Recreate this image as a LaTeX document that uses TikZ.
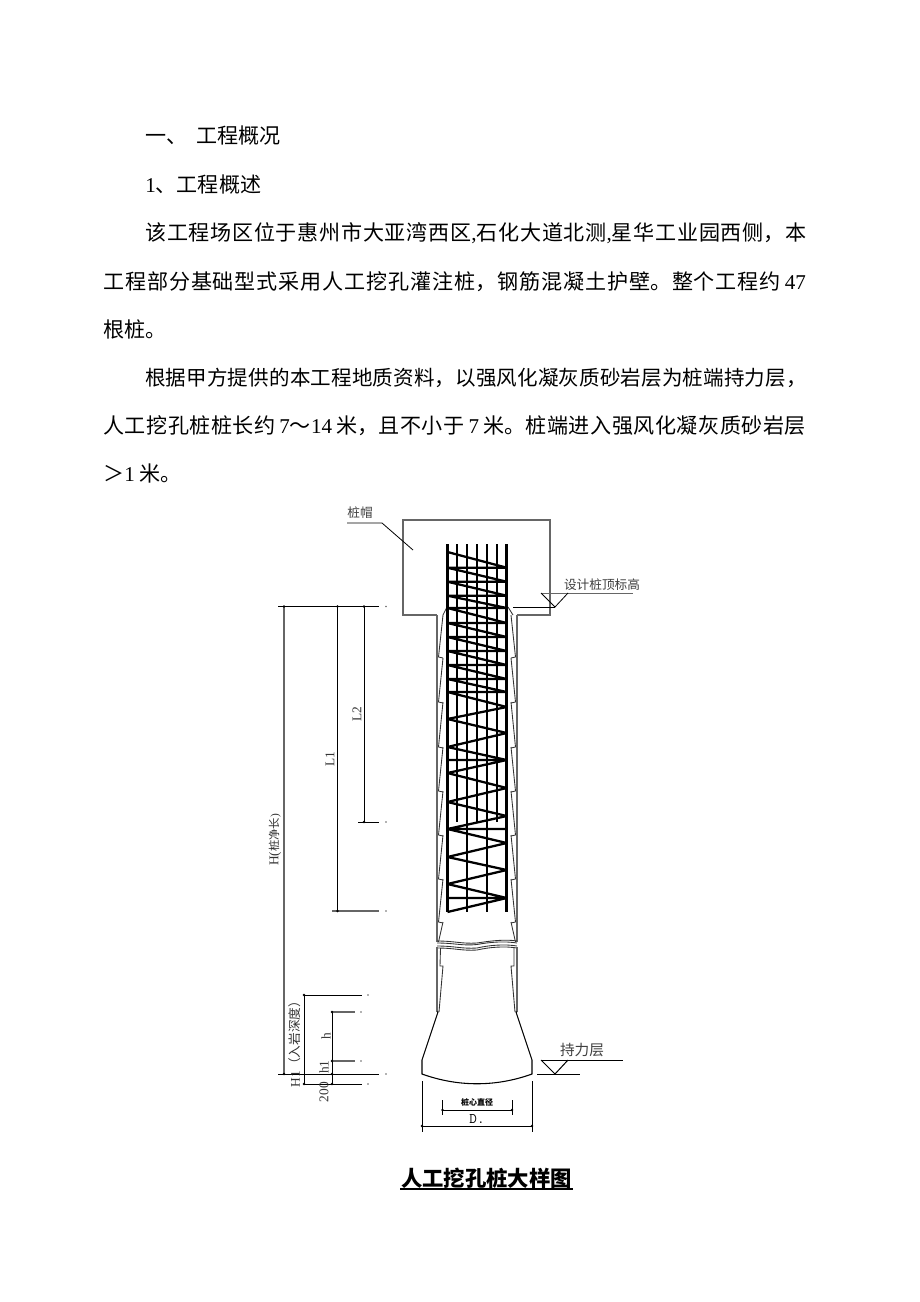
\documentclass[tikz,border=0pt]{standalone}
\usepackage{fontspec}
\setmainfont{Liberation Serif}
\newfontfamily\cjk{Noto Sans CJK SC}
\XeTeXlinebreaklocale "zh"
\XeTeXlinebreakskip=0pt plus 2pt
\tikzset{
 x=0.75pt,y=-0.75pt,
 body/.style={anchor=base west,inner sep=0,font=\fontsize{15.8pt}{18pt}\selectfont\cjk},
 lab/.style={inner sep=0,font=\fontsize{9.5pt}{12pt}\selectfont\cjk,text=black!75},
 dimlab/.style={inner sep=0,rotate=90,font=\fontsize{10pt}{11pt}\selectfont,text=black!80},
 thin line/.style={draw=black,line width=0.6pt},
 grey line/.style={draw=black!60,line width=0.9pt},
 dim line/.style={draw=black,line width=0.75pt},
 bar/.style={draw=black,line width=1.9pt},
 hoop/.style={draw=black,line width=1.7pt,line join=bevel},
 wall/.style={draw=black!80,line width=0.65pt},
 tip/.style={circle,fill=black,inner sep=0,minimum size=2pt},
}
\newcommand{\lat}[1]{{\fontspec{Liberation Serif}#1}}
\newcommand{\jf}[2]{\parbox[b]{#1}{\parindent=0pt\parfillskip=0pt #2}}
\begin{document}
\begin{tikzpicture}
\useasboundingbox (0,0) rectangle (920,1302);
\fill[white] (0,0) rectangle (920,1302);
% body text
\node[body] (t1) at (145,144) {一、\hspace{7pt}工程概况};
\node[body] (t2) at (145,192) {\lat{1}、工程概述};
\node[body] (t3) at (145,240) {\jf{496pt}{该工程场区位于惠州市大亚湾西区\lat{,}石化大道北测\lat{,}星华工业园西侧，本}};
\node[body] (t4) at (103,289) {\jf{527pt}{工程部分基础型式采用人工挖孔灌注桩，钢筋混凝土护壁。整个工程约\kern3pt\lat{47}}};
\node[body] (t5) at (103,337) {根桩。};
\node[body,font=\fontsize{15.4pt}{18pt}\selectfont\cjk] (t6) at (145,385) {\jf{496pt}{根据甲方提供的本工程地质资料，以强风化凝灰质砂岩层为桩端持力层，}};
\node[body] (t7) at (103,433) {\jf{527pt}{人工挖孔桩桩长约\kern3pt\lat{7}～\lat{14}\kern3pt米，且不小于\kern3pt\lat{7}\kern3pt米。桩端进入强风化凝灰质砂岩层}};
\node[body] (t8) at (103,481) {＞\lat{1} 米。};
% title
\node[inner sep=0,font=\fontsize{16pt}{18pt}\selectfont\cjk\bfseries] (title) at (486.5,1178) {人工挖孔桩大样图};
\draw[line width=1.1pt] (400,1189) -- (573,1189);
% pile cap
\draw[grey line] (437,615) -- (403,615) -- (403,520) -- (550,520) -- (550,615) -- (517,615);
\draw[wall] (443,615) -- (447,607);
\draw[wall] (513,615) -- (508,607);
% pile shaft walls
\draw[grey line,line width=0.8pt] (437,615) -- (437,942);
\draw[grey line,line width=0.8pt] (517,615) -- (517,942);
\foreach \a/\b in {615/657,658/702,702/747,747/791,791/835,835/879,879/922,922/942}{
  \draw[wall] (443,\a) -- (438.5,\b);
  \draw[wall] (511,\a) -- (515.5,\b);
}
\foreach \b in {657,702,747,791,835,879,922}{
  \draw[wall] (438.5,\b) -- (443,\b+1);
  \draw[wall] (515.5,\b) -- (511,\b+1);
}
% break lines
\draw[wall] (437,941) .. controls (455,941) and (462,944) .. (477,943) .. controls (490,941) and (505,939) .. (517,941);
\draw[wall] (437,943) .. controls (455,943) and (462,946) .. (477,944.5) .. controls (490,942) and (505,941) .. (517,943);
\draw[wall] (437,948) .. controls (455,948) and (462,951) .. (477,950) .. controls (490,947) and (505,946) .. (517,948);
\draw[wall] (437,946) .. controls (455,946) and (462,949) .. (477,948) .. controls (490,945) and (505,944) .. (517,946);
% lower shaft
\draw[grey line,line width=0.8pt] (437,947) -- (437,1012);
\draw[grey line,line width=0.8pt] (517,947) -- (517,1012);
\draw[wall] (440.5,948) -- (440,966) -- (443,966) -- (439,1012);
\draw[wall] (514,948) -- (514,966) -- (511,966) -- (515,1012);
% bell
\draw[line width=0.8pt] (437,1012) -- (438,1012) -- (422,1060) -- (422,1074) .. controls (458,1087) and (496,1087) .. (532,1074) -- (532,1060) -- (516,1012) -- (517,1012);
% rebar
\foreach \x in {447.5,457.2,467,477,487,497,506.7}{\draw[bar] (\x,544) -- (\x,692);}
\foreach \x in {447.5,467,487,506.7}{\draw[bar] (\x,692) -- (\x,912);}
\foreach \x in {457.2,477,497}{\draw[bar] (\x,692) -- (\x,822);}
% hoops
\draw[hoop] (447.5,552) -- (506.7,567.7) -- (447.5,567.7) -- (506.7,581.7) -- (447.5,581.7) -- (506.7,595.7) -- (447.5,595.7) -- (506.7,608) -- (447.5,608) -- (506.7,623) -- (447.5,623) -- (506.7,637) -- (447.5,637) -- (506.7,651) -- (447.5,651) -- (506.7,665) -- (447.5,665) -- (506.7,679) -- (447.5,679) -- (506.7,692) -- (447.5,692) -- (506.7,707) -- (447.5,719) -- (506.7,733) -- (447.5,747) -- (506.7,760) -- (447.5,760) -- (506.7,760) -- (447.5,773) -- (506.7,788) -- (447.5,802) -- (506.7,816) -- (447.5,829) -- (506.7,829) -- (447.5,829) -- (506.7,843) -- (447.5,857) -- (506.7,870) -- (447.5,884) -- (506.7,898) -- (447.5,898) -- (506.7,898) -- (447.5,912);
% top-of-pile level
\coordinate (lv) at (555,607);
\draw[thin line] (513,607) -- (lv);
\draw[grey line,line width=0.7pt] (541,593) -- (633,593);
\draw[thin line] (541,593) -- (lv) -- (568,593);
\node[lab] (lvt) at (602,585) {设计桩顶标高};
% cap leader
\coordinate (ca) at (347,523);
\coordinate (cb) at (382,523);
\coordinate (cc) at (413,550);
\draw[thin line] (ca) -- (cb) -- (cc);
\node[lab] (capt) at (360,513) {桩帽};
% bearing layer
\coordinate (br) at (555,1074);
\draw[dim line] (541,1060) -- (623,1060);
\draw[dim line] (541,1060) -- (br) -- (568,1060);
\draw[dim line] (537,1074) -- (580,1074);
\node[lab,font=\fontsize{11pt}{12pt}\selectfont\cjk] (bt) at (582,1050) {持力层};
% D dims
\draw[dim line] (422,1081) -- (422,1132);
\draw[dim line] (532,1081) -- (532,1132);
\draw[dim line] (422,1126) -- (532,1126);
\draw[dim line] (442.5,1100) -- (442.5,1115);
\draw[dim line] (512,1100) -- (512,1115);
\draw[dim line] (442.5,1110) -- (512,1110);
\node[tip] (d1) at (422,1126) {}; \node[tip] (d2) at (532,1126) {};
\node[tip] (d3) at (442.5,1110) {}; \node[tip] (d4) at (512,1110) {};
\node[inner sep=0,font=\fontsize{6pt}{7pt}\selectfont\cjk\bfseries] (dct) at (477,1102.5) {桩心直径};
\node[inner sep=0,font=\fontsize{11pt}{12pt}\selectfont\ttfamily] (dt) at (477,1119) {D.};
% left dims
\draw[dim line] (278,606.5) -- (379,606.5);
\draw[grey line,line width=1pt] (284,606.5) -- (284,1074);
\draw[dim line] (337.5,606.5) -- (337.5,911);
\draw[dim line] (364,606.5) -- (364,822);
\draw[dim line] (358,822) -- (379,822);
\draw[grey line,line width=1pt] (332,911) -- (379,911);
\draw[dim line] (278,1074) -- (379,1074);
\draw[dim line] (304,995) -- (362,995);
\draw[dim line] (304,995) -- (304,1084);
\draw[dim line] (304,1084) -- (362,1084);
\draw[dim line] (332,1012) -- (332,1084);
\draw[grey line,line width=0.9pt] (332,1012) -- (355,1012);
\draw[grey line,line width=0.9pt] (332,1061) -- (355,1061);
\foreach \p/\n in {284/606.5,337.5/606.5,364/606.5,364/822,337.5/911,284/1074,304/995,304/1084,332/1012,332/1061,332/1074,332/1084}{\node[tip] at (\p,\n) {};}
\foreach \p/\n in {386/606.5,386/822,386/911,386/1074,368/995,368/1084,361/1012,361/1061}{\fill[black!60] (\p,\n) circle[radius=0.6pt];}
% left labels
\node[dimlab] (hl) at (275,840) {H(\cjk\fontsize{8.5pt}{10pt}\selectfont 桩净长\lat{)}};
\node[dimlab] (l1) at (330,759) {L1};
\node[dimlab] (l2) at (357,714) {L2};
\node[dimlab] (h1l) at (295,1041) {H1{\cjk\fontsize{9.5pt}{10pt}\selectfont（入岩深度）}};
\node[dimlab] (hh) at (326,1036) {h};
\node[dimlab] (hh1) at (324,1067) {h1};
\node[dimlab] (h200) at (324,1092) {200};
\end{tikzpicture}
\end{document}
